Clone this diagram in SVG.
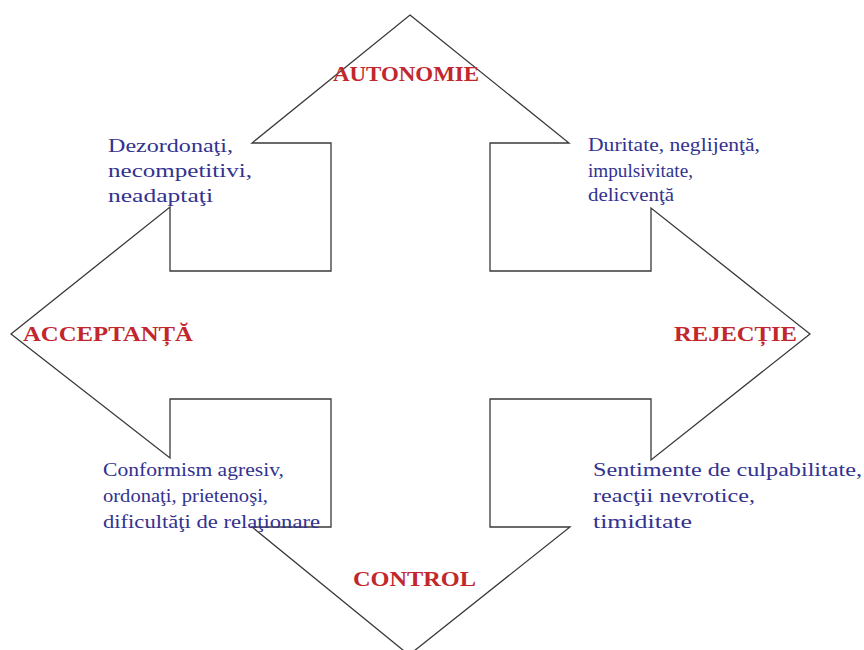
<svg xmlns="http://www.w3.org/2000/svg" width="864" height="650" viewBox="0 0 864 650">
<style>
.shape{fill:none;stroke:#3a3a3a;stroke-width:1.3;stroke-linejoin:miter}
.lbl{font-family:"Liberation Serif","Times New Roman",serif;font-weight:bold;font-size:20px;fill:#c1272d}
.txt{font-family:"Liberation Serif","Times New Roman",serif;font-size:19px;fill:#32328f}
</style>
<rect width="864" height="650" fill="#ffffff"/>
<g id="connectors">
<polygon class="shape" points="410,15 569,143 490,143 490,271 651,271 651,208 810,334 651,460 651,399 490,399 490,527 570,527 409,655 252,527 331,527 331,399 170,399 170,458 11,334 170,207 170,271 331,271 331,143 252,143"/>
</g>
<g id="autonomie"><text class="lbl" x="333" y="81" textLength="146" lengthAdjust="spacingAndGlyphs">AUTONOMIE</text></g>
<g id="acceptanta"><text class="lbl" x="23" y="341" textLength="170" lengthAdjust="spacingAndGlyphs">ACCEPTANȚĂ</text></g>
<g id="rejectie"><text class="lbl" x="674" y="341" textLength="123" lengthAdjust="spacingAndGlyphs">REJECȚIE</text></g>
<g id="control"><text class="lbl" x="353" y="586" textLength="123" lengthAdjust="spacingAndGlyphs">CONTROL</text></g>
<g id="text-top-left">
<text class="txt" x="108" y="152" textLength="125" lengthAdjust="spacingAndGlyphs">Dezordonaţi,</text>
<text class="txt" x="108" y="177" textLength="144" lengthAdjust="spacingAndGlyphs">necompetitivi,</text>
<text class="txt" x="108" y="202" textLength="105" lengthAdjust="spacingAndGlyphs">neadaptaţi</text>
</g>
<g id="text-top-right">
<text class="txt" x="588" y="151" textLength="172" lengthAdjust="spacingAndGlyphs">Duritate, neglijenţă,</text>
<text class="txt" x="588" y="177" textLength="105" lengthAdjust="spacingAndGlyphs">impulsivitate,</text>
<text class="txt" x="588" y="201" textLength="86" lengthAdjust="spacingAndGlyphs">delicvenţă</text>
</g>
<g id="text-bottom-left">
<text class="txt" x="103" y="476" textLength="181" lengthAdjust="spacingAndGlyphs">Conformism agresiv,</text>
<text class="txt" x="103" y="502" textLength="165" lengthAdjust="spacingAndGlyphs">ordonaţi, prietenoşi,</text>
<text class="txt" x="103" y="528" textLength="217" lengthAdjust="spacingAndGlyphs">dificultăţi de relaţionare</text>
</g>
<g id="text-bottom-right">
<text class="txt" x="593" y="476" textLength="269" lengthAdjust="spacingAndGlyphs">Sentimente de culpabilitate,</text>
<text class="txt" x="593" y="502" textLength="162" lengthAdjust="spacingAndGlyphs">reacţii nevrotice,</text>
<text class="txt" x="593" y="528" textLength="99" lengthAdjust="spacingAndGlyphs">timiditate</text>
</g>
</svg>
